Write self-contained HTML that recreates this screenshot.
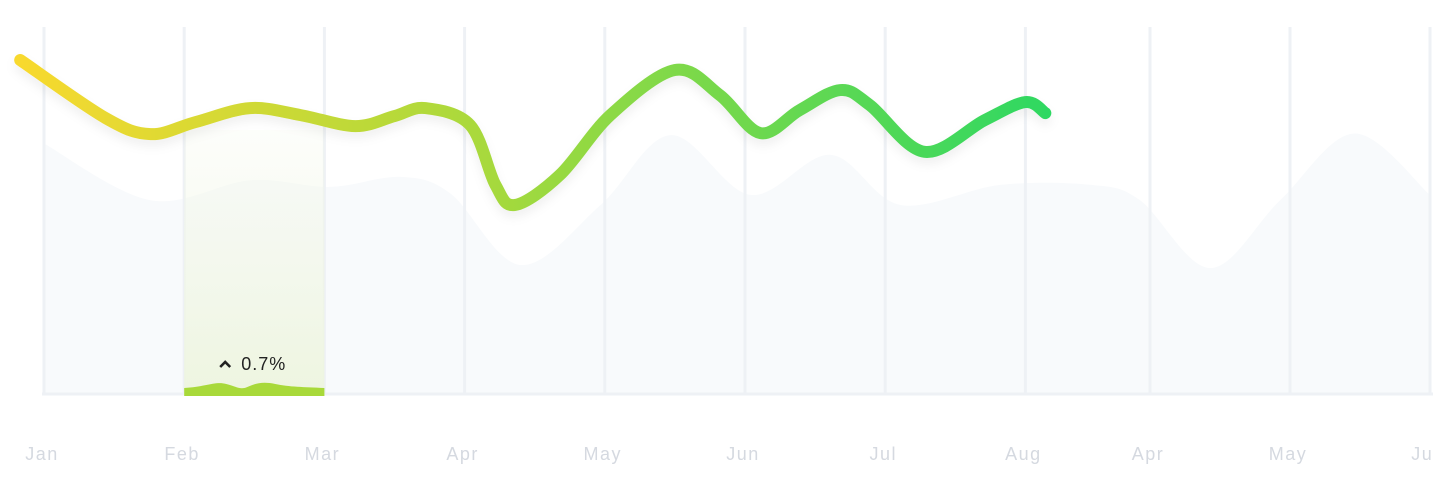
<!DOCTYPE html>
<html><head><meta charset="utf-8"><style>
html,body{margin:0;padding:0;background:#fff;width:1433px;height:478px;overflow:hidden}
svg{display:block;font-family:"Liberation Sans",sans-serif}
</style></head><body>
<svg id="chart" width="1433" height="478">
<defs>
<linearGradient id="lg" x1="20" y1="0" x2="1050" y2="0" gradientUnits="userSpaceOnUse">
<stop offset="0" stop-color="#f8d92e"/><stop offset="0.45" stop-color="#a8d93c"/><stop offset="1" stop-color="#2ed862"/></linearGradient>
<linearGradient id="hg" x1="0" y1="0" x2="0" y2="1"><stop offset="0" stop-color="#f3f8e8" stop-opacity="0.2"/><stop offset="1" stop-color="#eef5e0"/></linearGradient>
<filter id="sh" x="-5%" y="-20%" width="110%" height="150%"><feDropShadow dx="0" dy="6" stdDeviation="5" flood-color="#000" flood-opacity="0.06"/></filter>
</defs>
<g id="area"></g>
<g id="grid"></g>
<g id="hl"></g>
<g id="line"></g>
<g id="xlabels"></g>
</svg>
<script>
const categories=["Jan","Feb","Mar","Apr","May","Jun","Jul","Aug","Apr","May","Jun"];
const lineX=[-0.17,0.44,0.76,1.08,1.47,1.83,2.22,2.5,2.72,3.04,3.22,3.36,3.68,4.04,4.5,4.82,5.11,5.39,5.68,5.89,6.28,6.71,7.0,7.16];
const lineV=[100,82.6,77.8,81.4,85.6,83.5,80.2,83.2,85.6,80.5,62.6,56.6,65.6,83.5,97,89.5,78.1,85,91,86.5,72.5,82,87.4,84.1];
const areaX=[0,0.76,1.47,2.04,2.54,2.9,3.4,3.97,4.47,5.04,5.61,6.11,6.82,7.53,7.92,8.43,8.93,9.46,10];
const areaV=[75,58,64,62,65,60,38.6,56.6,77.5,59.6,71.6,56.6,62.6,62.6,58,37.7,58,78,59.6];
const highlightIndex=1;
const highlightLabel="0.7%";
const X0=44,DX=140.2,YB=394;
function xs(i){return i<8?X0+i*DX:1150+(i-8)*140;}
function xpos(f){const i=Math.floor(f);return xs(i)+(f-i)*(xs(i+1)-xs(i));}
function ys(v){return YB-v*3.34;}
const NS="http://www.w3.org/2000/svg";
function el(t,a,p){const e=document.createElementNS(NS,t);for(const k in a)e.setAttribute(k,a[k]);p.appendChild(e);return e;}
function smooth(pts){let d="M"+pts[0][0]+","+pts[0][1];for(let i=0;i<pts.length-1;i++){const p0=pts[i-1]||pts[i],p1=pts[i],p2=pts[i+1],p3=pts[i+2]||p2;const c1x=p1[0]+(p2[0]-p0[0])/6,c1y=p1[1]+(p2[1]-p0[1])/6,c2x=p2[0]-(p3[0]-p1[0])/6,c2y=p2[1]-(p3[1]-p1[1])/6;d+=" C"+c1x+","+c1y+" "+c2x+","+c2y+" "+p2[0]+","+p2[1];}return d;}
const ap=areaX.map((x,i)=>[xpos(x),ys(areaV[i])]);
const a=el("path",{d:smooth(ap)+" L"+ap[ap.length-1][0]+","+YB+" L"+ap[0][0]+","+YB+"Z",fill:"#f8fafc"},document.getElementById("area"));


const g=document.getElementById("grid");
categories.forEach((c,i)=>{const l=el("line",{x1:xs(i),x2:xs(i),y1:27,y2:YB,stroke:"#eef1f5","stroke-width":3},g);

});
const base=el("line",{x1:42,x2:1433,y1:YB,y2:YB,stroke:"#eef1f5","stroke-width":3},g);


const h=document.getElementById("hl");
const hx1=xs(highlightIndex),hx2=xs(highlightIndex+1);
const band=el("rect",{x:hx1,y:130,width:hx2-hx1,height:YB-130,fill:"url(#hg)"},h);


const w=(hx2-hx1);
const wave=el("path",{d:`M${hx1},${YB+2} L${hx1},${YB-6} C${hx1+w*0.15},${YB-7} ${hx1+w*0.22},${YB-13} ${hx1+w*0.3},${YB-10} S${hx1+w*0.4},${YB-4} ${hx1+w*0.45},${YB-7} S${hx1+w*0.55},${YB-13} ${hx1+w*0.65},${YB-10} S${hx1+w*0.85},${YB-7} ${hx2},${YB-6} L${hx2},${YB+2}Z`,fill:"#a8d93a"},h);


const ch=el("path",{d:`M${hx1+36},${YB-27} l5,-5 l5,5`,fill:"none",stroke:"#222","stroke-width":2.6},h);


const ht=el("text",{x:hx1+57,y:YB-24,"font-size":18,fill:"#222","letter-spacing":"1"},h);ht.textContent=highlightLabel;


const lp=lineX.map((x,i)=>[xpos(x),ys(lineV[i])]);
const ln=el("path",{d:smooth(lp),fill:"none",stroke:"url(#lg)","stroke-width":12,"stroke-linecap":"round","stroke-linejoin":"round",filter:"url(#sh)"},document.getElementById("line"));


const xl=document.getElementById("xlabels");
categories.forEach((c,i)=>{const t=el("text",{x:xs(i)-2,y:460,"font-size":18,fill:"#d5d9e0","text-anchor":"middle","letter-spacing":"1.5"},xl);t.textContent=c;

});
</script>
</body></html>
